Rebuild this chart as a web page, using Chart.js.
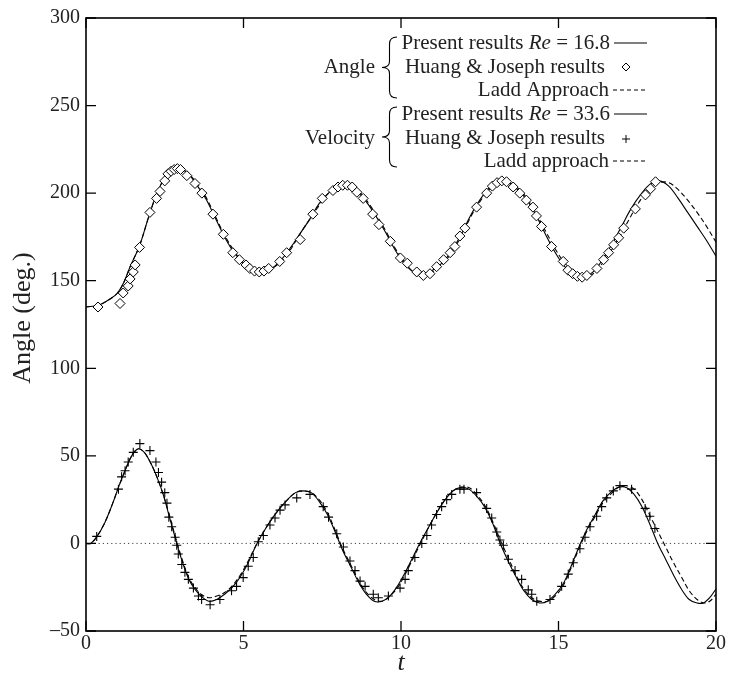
<!DOCTYPE html>
<html>
<head>
<meta charset="utf-8">
<script src="https://cdn.jsdelivr.net/npm/chart.js@4.4.1/dist/chart.umd.min.js"></script>
<style>
  html, body { margin: 0; padding: 0; background: #fff; }
  #wrap { width: 731px; height: 677px; }
</style>
</head>
<body>
<div id="wrap"><canvas id="angleChart"></canvas></div>
<script>
// tick values
const xTicks = [0, 5, 10, 15, 20];
const yTicks = [-50, 0, 50, 100, 150, 200, 250, 300];

// angle, present results (Re = 16.8) and Ladd approach
const tAngle = [0, 0.4, 0.8, 1.0, 1.2, 1.4, 1.7,
    2.0, 2.3, 2.6, 2.9, 3.2, 3.5, 3.8, 4.1, 4.4, 4.7,
    5.0, 5.3, 5.6, 5.9, 6.2, 6.5, 6.8, 7.1, 7.4, 7.7,
    8.0, 8.3, 8.6, 8.9, 9.2, 9.5, 9.8, 10.1, 10.4, 10.7,
    11.0, 11.3, 11.6, 11.9, 12.2, 12.5, 12.8, 13.1, 13.4, 13.7,
    14.0, 14.3, 14.6, 14.9, 15.2, 15.5, 15.8, 16.1, 16.4, 16.7,
    17.0, 17.3, 17.6, 17.9, 18.2, 18.5, 18.8, 19.1, 19.4, 19.7, 20.0];
const angleSolid = [135, 136, 140, 143, 149, 158, 170,
    187, 202, 211, 214, 212, 205, 197, 186, 175, 166,
    160, 156, 155, 157, 162, 169, 177, 185, 194, 200,
    204, 204, 201, 195, 187, 178, 168, 160, 155, 154,
    156, 160, 167, 176, 187, 196, 203, 207, 206, 202,
    196, 187, 176, 166, 158, 153, 152, 155, 162, 171,
    181, 191, 199, 205, 207, 204, 197, 189, 181, 173, 164];
const angleLadd = [135, 136, 140, 143, 149, 158, 170,
    187, 202, 211, 214, 212, 206, 198, 187, 176, 167,
    160, 156, 155, 157, 161, 168, 177, 185, 193, 200,
    203, 204, 202, 196, 188, 179, 169, 161, 155, 154,
    155, 159, 166, 175, 186, 195, 202, 206, 206, 203,
    197, 188, 178, 168, 160, 155, 152, 154, 160, 168,
    177, 187, 196, 203, 206, 206, 202, 196, 189, 181, 172];

// angle, Huang & Joseph
const tHJAngle = [0.38, 1.08, 1.18, 1.34, 1.4, 1.5, 1.56, 1.7, 2.03, 2.24, 2.35, 2.5,
    2.6, 2.7, 2.8, 2.9, 3.0, 3.2, 3.46, 3.68, 4.03, 4.36, 4.66, 4.87, 5.08,
    5.2, 5.35, 5.5, 5.65, 5.8, 6.15, 6.37, 6.8, 7.2, 7.5, 7.84,
    8.0, 8.15, 8.3, 8.45, 8.6, 8.8, 9.1, 9.3, 9.66, 9.98, 10.2,
    10.5, 10.71, 10.92, 11.13, 11.35, 11.56, 11.71, 11.87, 12.03, 12.4, 12.72,
    12.9, 13.05, 13.2, 13.35, 13.56, 13.77, 13.98, 14.19, 14.3, 14.46, 14.78,
    15.15, 15.3, 15.45, 15.6, 15.75, 15.9, 16.22, 16.43, 16.59, 16.75, 16.91,
    17.07, 17.44, 17.76, 17.92, 18.08];
const hjAngle = [135, 137, 143, 147, 151, 155, 159, 169, 189, 197, 201, 207,
    211, 212.5, 213.5, 214, 213.5, 210, 205.5, 200, 188, 176.5, 166, 162, 159,
    157, 155.5, 155, 155.5, 157, 161, 166, 173.5, 188, 197, 201.5,
    203.5, 204.5, 204.5, 203.5, 200.5, 197, 188, 182, 172.5, 163, 160,
    155, 153, 154, 158, 162, 166, 169.5, 175.5, 180, 192, 200,
    204, 206, 207, 206.5, 203.5, 200, 196, 192, 187, 181, 169.5,
    161, 156, 154, 152.5, 152, 153, 157, 162, 166, 170.5, 174.5,
    180, 191, 199, 202.5, 206.5];

// velocity, present results (Re = 33.6) and Ladd approach
const tVel = [0, 0.15, 0.35, 0.6, 0.85, 1.05, 1.25, 1.45, 1.65, 1.85,
    2.05, 2.25, 2.45, 2.65, 2.85, 3.05, 3.25, 3.45, 3.65, 3.9,
    4.15, 4.4, 4.65, 4.9, 5.15, 5.4, 5.65, 5.9, 6.15, 6.4,
    6.65, 6.9, 7.15, 7.4, 7.65, 7.9, 8.15, 8.4, 8.65, 8.9,
    9.15, 9.4, 9.65, 9.9, 10.15, 10.4, 10.65, 10.9, 11.15, 11.4,
    11.65, 11.9, 12.15, 12.4, 12.65, 12.9, 13.15, 13.4, 13.65, 13.9,
    14.15, 14.4, 14.65, 14.9, 15.15, 15.4, 15.65, 15.9, 16.15, 16.4,
    16.65, 16.9, 17.15, 17.4, 17.65, 17.9, 18.15, 18.4, 18.65, 18.9,
    19.15, 19.4, 19.6, 19.8, 20];
const velSolid = [0, 0, 4, 12, 23, 33, 42, 50, 54, 52,
    46, 38, 28, 15, 2, -10, -20, -26, -30, -33,
    -32, -29, -25, -19, -11, -1, 7, 14, 20, 25,
    29, 30, 29, 24, 17, 7, -4, -13, -22, -29,
    -33, -33, -30, -24, -16, -7, 2, 10, 18, 25,
    30, 32, 31, 27, 21, 12, 0, -10, -19, -27,
    -32, -34, -33, -29, -23, -13, -2, 8, 16, 24,
    29, 32, 32, 28, 21, 11, 0, -9, -18, -26,
    -32, -34, -34, -31, -26];
const velLadd = [0, 0, 4, 12, 23, 33, 42, 50, 54, 52,
    46, 38, 28, 16, 3, -9, -19, -25, -29, -31,
    -30, -28, -24, -18, -10, -1, 7, 14, 20, 25,
    29, 30, 29, 25, 18, 8, -3, -12, -21, -28,
    -32, -33, -30, -25, -17, -8, 1, 10, 18, 25,
    30, 32, 32, 28, 22, 13, 2, -8, -18, -26,
    -31, -33, -33, -30, -24, -14, -3, 7, 15, 23,
    28, 32, 33, 31, 25, 16, 7, -2, -11, -19,
    -27, -32, -34, -33, -29];

// velocity, Huang & Joseph
const tHJVel = [0.34, 1.03, 1.13, 1.24, 1.34, 1.5, 1.71, 2.03, 2.22, 2.3, 2.4, 2.5,
    2.57, 2.63, 2.72, 2.83, 2.88, 2.93, 3.04, 3.14, 3.25, 3.41, 3.57, 3.67, 3.94,
    4.25, 4.62, 4.78, 4.99, 5.15, 5.31, 5.47, 5.63, 5.84, 6.0, 6.16, 6.32, 6.69,
    7.11, 7.53, 7.7, 7.96, 8.17, 8.38, 8.54, 8.7, 8.86, 9.12, 9.28, 9.6, 9.97,
    10.13, 10.23, 10.44, 10.66, 10.82, 10.97, 11.13, 11.29, 11.45, 11.61, 11.87, 12.0,
    12.4, 12.72, 12.88, 13.04, 13.14, 13.25, 13.41, 13.62, 13.83, 14.04, 14.15, 14.31,
    14.73, 15.1, 15.31, 15.47, 15.68, 15.84, 16.0, 16.21, 16.37, 16.53, 16.74, 16.95,
    17.32, 17.75, 17.9, 18.06];
const hjVel = [4, 31, 38, 41.5, 46.5, 52, 57, 53, 46.5, 40.5, 35, 29,
    23, 15, 9.5, 3.5, -1, -6, -12, -16.5, -20.5, -25.5, -30, -32, -35,
    -32, -27, -24.5, -19.5, -13, -8, 1, 4.5, 10.5, 14.5, 19, 22, 26,
    28, 21, 15, 5.5, -2, -10, -15.5, -21.5, -24.5, -29, -31, -30, -25.5,
    -20.5, -15.5, -8, 0, 4.5, 10.5, 16.5, 21, 25, 28, 31, 31,
    29, 20, 14.5, 6.5, 2, -1, -9, -15.5, -20.5, -26.5, -29, -33,
    -32, -24.5, -17.5, -11, -3, 3.5, 9.5, 15.5, 21, 26, 30, 33,
    31, 20, 15.5, 8.5];

const zeroLine = [0, 20];

const pts = (xs, ys) => xs.map((x, i) => ({ x: x, y: ys[i] }));
const serif = "'Liberation Serif', 'Times New Roman', serif";

const lineSet = (data, dash) => ({
    data: data,
    showLine: true,
    borderColor: "#000",
    borderWidth: 1.1,
    borderDash: dash,
    pointRadius: 0,
    tension: 0.35,
    fill: false,
    order: 2,
});

function brace(ctx, x, y0, y1, w) {
    const ym = (y0 + y1) / 2;
    const xs = x + w / 2;
    ctx.beginPath();
    ctx.moveTo(x + w, y0);
    ctx.quadraticCurveTo(xs, y0, xs, y0 + 7);
    ctx.lineTo(xs, ym - 6);
    ctx.quadraticCurveTo(xs, ym, x, ym);
    ctx.quadraticCurveTo(xs, ym, xs, ym + 6);
    ctx.lineTo(xs, y1 - 7);
    ctx.quadraticCurveTo(xs, y1, x + w, y1);
    ctx.stroke();
}

function rightText(ctx, parts, xr, y) {
    let total = 0;
    parts.forEach(p => { ctx.font = p[1]; total += ctx.measureText(p[0]).width; });
    let x = xr - total;
    parts.forEach(p => {
        ctx.font = p[1];
        ctx.fillText(p[0], x, y);
        x += ctx.measureText(p[0]).width;
    });
}

const framePlugin = {
    id: "frame",
    afterDraw(chart) {
        const { ctx, chartArea: a, scales } = chart;
        const xs = scales.x, ys = scales.y;
        ctx.save();
        ctx.strokeStyle = "#000";
        ctx.lineWidth = 1.6;
        ctx.strokeRect(a.left, a.top, a.right - a.left, a.bottom - a.top);
        ctx.lineWidth = 1.3;
        ctx.beginPath();
        xTicks.forEach(v => {
            const px = xs.getPixelForValue(v);
            ctx.moveTo(px, a.bottom); ctx.lineTo(px, a.bottom - 10);
            ctx.moveTo(px, a.top); ctx.lineTo(px, a.top + 10);
        });
        yTicks.forEach(v => {
            const py = ys.getPixelForValue(v);
            ctx.moveTo(a.left, py); ctx.lineTo(a.left + 10, py);
            ctx.moveTo(a.right, py); ctx.lineTo(a.right - 10, py);
        });
        ctx.stroke();

        // axis titles
        ctx.fillStyle = "#222";
        ctx.textBaseline = "middle";
        ctx.textAlign = "center";
        ctx.font = "italic 26px " + serif;
        ctx.fillText("t", xs.getPixelForValue(10), 663);
        ctx.save();
        ctx.translate(23, 318);
        ctx.rotate(-Math.PI / 2);
        ctx.font = "26px " + serif;
        ctx.fillText("Angle (deg.)", 0, 0);
        ctx.restore();

        // legend
        ctx.textAlign = "left";
        const f = "21px " + serif, fi = "italic 21px " + serif;
        const rows = [43, 67, 90, 114, 138, 161];
        rightText(ctx, [["Present results ", f], ["Re", fi], [" = 16.8", f]], 610, rows[0]);
        rightText(ctx, [["Huang & Joseph results", f]], 605, rows[1]);
        rightText(ctx, [["Ladd Approach", f]], 609, rows[2]);
        rightText(ctx, [["Present results ", f], ["Re", fi], [" = 33.6", f]], 610, rows[3]);
        rightText(ctx, [["Huang & Joseph results", f]], 605, rows[4]);
        rightText(ctx, [["Ladd approach", f]], 609, rows[5]);
        rightText(ctx, [["Angle", f]], 375, rows[1]);
        rightText(ctx, [["Velocity", f]], 375, rows[4]);

        ctx.lineWidth = 1.1;
        brace(ctx, 382, 37, 98, 15);
        brace(ctx, 382, 107, 167, 15);

        ctx.beginPath();
        ctx.moveTo(614, rows[0]); ctx.lineTo(647, rows[0]);
        ctx.moveTo(614, rows[3]); ctx.lineTo(647, rows[3]);
        ctx.stroke();
        ctx.setLineDash([4, 3]);
        ctx.beginPath();
        ctx.moveTo(613, rows[2]); ctx.lineTo(647, rows[2]);
        ctx.moveTo(613, rows[5]); ctx.lineTo(647, rows[5]);
        ctx.stroke();
        ctx.setLineDash([]);
        ctx.lineWidth = 1;
        ctx.beginPath();
        ctx.moveTo(622, rows[1]); ctx.lineTo(626, rows[1] - 4);
        ctx.lineTo(630, rows[1]); ctx.lineTo(626, rows[1] + 4); ctx.closePath();
        ctx.moveTo(622, rows[4] + 1); ctx.lineTo(630, rows[4] + 1);
        ctx.moveTo(626, rows[4] - 3); ctx.lineTo(626, rows[4] + 5);
        ctx.stroke();
        ctx.restore();
    },
};

new Chart(document.getElementById("angleChart"), {
    type: "scatter",
    data: {
        datasets: [
            lineSet(pts(tAngle, angleSolid), []),
            lineSet(pts(tAngle, angleLadd), [5, 3]),
            {
                data: pts(tHJAngle, hjAngle),
                pointStyle: "rectRot",
                pointRadius: 5,
                backgroundColor: "#fff",
                borderColor: "#000",
                borderWidth: 1,
                order: 1,
            },
            lineSet(pts(tVel, velSolid), []),
            lineSet(pts(tVel, velLadd), [5, 3]),
            {
                data: pts(tHJVel, hjVel),
                pointStyle: "cross",
                pointRadius: 4.5,
                borderColor: "#000",
                borderWidth: 1.1,
                order: 1,
            },
            {
                data: pts(zeroLine, [0, 0]),
                showLine: true,
                borderColor: "#444",
                borderWidth: 1,
                borderDash: [1.2, 3],
                pointRadius: 0,
                order: 3,
            },
        ],
    },
    options: {
        responsive: true,
        maintainAspectRatio: false,
        animation: false,
        layout: { padding: { top: 17, right: 15, left: 0, bottom: 0 } },
        plugins: {
            legend: { display: false },
            tooltip: { enabled: false },
        },
        scales: {
            x: {
                type: "linear",
                min: 0,
                max: 20,
                afterBuildTicks: s => { s.ticks = xTicks.map(v => ({ value: v })); },
                afterFit: s => { s.height = 46; },
                grid: { display: false, drawTicks: false },
                border: { display: false },
                ticks: {
                    color: "#222",
                    padding: 1,
                    font: { family: serif, size: 20 },
                },
            },
            y: {
                min: -50,
                max: 300,
                afterBuildTicks: s => { s.ticks = yTicks.map(v => ({ value: v })); },
                afterFit: s => { s.width = 86; },
                grid: { display: false, drawTicks: false },
                border: { display: false },
                ticks: {
                    color: "#222",
                    padding: 6,
                    font: { family: serif, size: 20 },
                    callback: v => String(v).replace("-", "\u2013"),
                },
            },
        },
    },
    plugins: [framePlugin],
});
</script>
</body>
</html>
